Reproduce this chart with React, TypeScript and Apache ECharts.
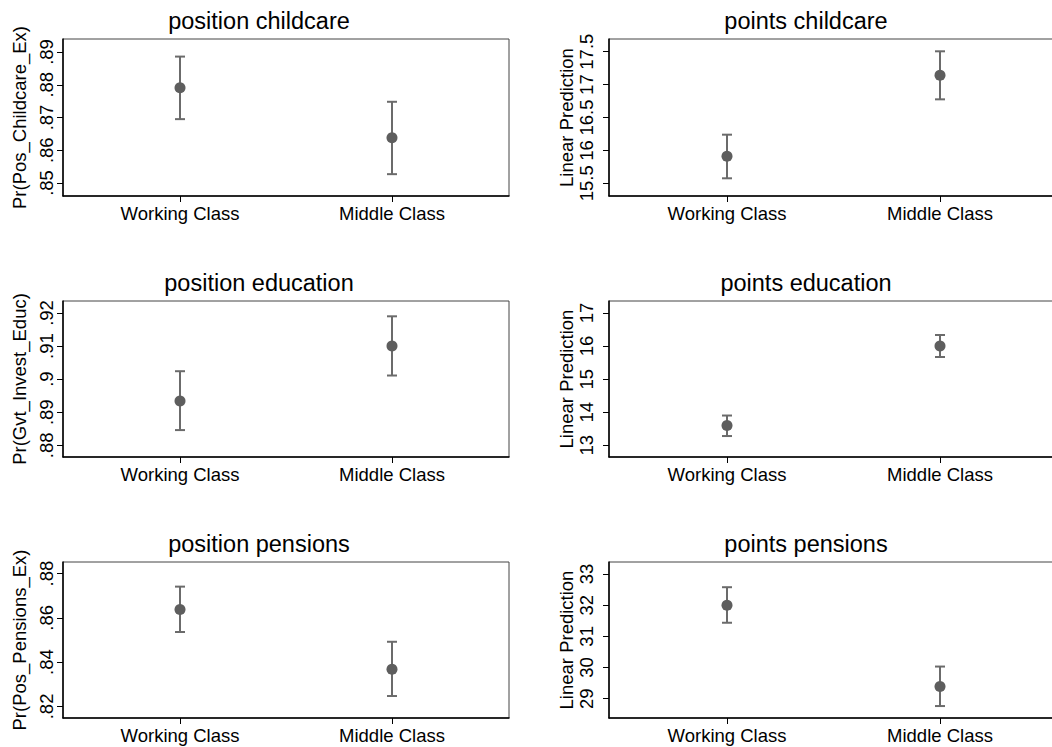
import React, { useEffect, useRef } from "react";
import * as echarts from "echarts";

const categories = ["Working Class", "Middle Class"];

const posChildcareEst = [0.8791, 0.8638];
const posChildcareLo = [0.8695, 0.8527];
const posChildcareHi = [0.8886, 0.8748];
const posChildcareTicks = [0.85, 0.86, 0.87, 0.88, 0.89];

const ptsChildcareEst = [15.911, 17.141];
const ptsChildcareLo = [15.576, 16.776];
const ptsChildcareHi = [16.239, 17.506];
const ptsChildcareTicks = [15.5, 16, 16.5, 17, 17.5];

const posEducationEst = [0.8934, 0.91];
const posEducationLo = [0.8846, 0.9011];
const posEducationHi = [0.9024, 0.919];
const posEducationTicks = [0.88, 0.89, 0.9, 0.91, 0.92];

const ptsEducationEst = [13.596, 16.003];
const ptsEducationLo = [13.28, 15.67];
const ptsEducationHi = [13.9, 16.335];
const ptsEducationTicks = [13, 14, 15, 16, 17];

const posPensionsEst = [0.8638, 0.8368];
const posPensionsLo = [0.8536, 0.8247];
const posPensionsHi = [0.8741, 0.8492];
const posPensionsTicks = [0.82, 0.84, 0.86, 0.88];

const ptsPensionsEst = [32.0, 29.393];
const ptsPensionsLo = [31.436, 28.766];
const ptsPensionsHi = [32.575, 30.032];
const ptsPensionsTicks = [29, 30, 31, 32, 33];

const FONT = "'Liberation Sans', Arial, Helvetica, sans-serif";

const probFmt = (v: number) => String(v).replace(/^0/, "");
const numFmt = (v: number) => String(v);

type Panel = {
  title: string;
  yName: string;
  est: number[];
  lo: number[];
  hi: number[];
  ticks: number[];
  yMin: number;
  yMax: number;
  fmt: (v: number) => string;
  left: number;
  top: number;
  width: number;
  height: number;
  xMin: number;
  xMax: number;
  titleX: number;
  titleTop: number;
  labelMargin: number;
  nameGap: number;
};

// left column: box 63..509 ; right column: box starts at 609 and runs past the page edge
const L = { left: 63, width: 446, xMin: -0.552, xMax: 1.552 };
const R = { left: 609, width: 462, xMin: -0.554, xMax: 1.615 };

const panels: Panel[] = [
  {
    title: "position childcare", yName: "Pr(Pos_Childcare_Ex)",
    est: posChildcareEst, lo: posChildcareLo, hi: posChildcareHi, ticks: posChildcareTicks,
    yMin: 0.84603, yMax: 0.89397, fmt: probFmt, ...L,
    top: 39, height: 157, titleX: 259, titleTop: 9, labelMargin: 7, nameGap: 34,
  },
  {
    title: "points childcare", yName: "Linear Prediction",
    est: ptsChildcareEst, lo: ptsChildcareLo, hi: ptsChildcareHi, ticks: ptsChildcareTicks,
    yMin: 15.307, yMax: 17.693, fmt: numFmt, ...R,
    top: 39, height: 157, titleX: 806, titleTop: 9, labelMargin: 13, nameGap: 33,
  },
  {
    title: "position education", yName: "Pr(Gvt_Invest_Educ)",
    est: posEducationEst, lo: posEducationLo, hi: posEducationHi, ticks: posEducationTicks,
    yMin: 0.87646, yMax: 0.92363, fmt: probFmt, ...L,
    top: 301, height: 156, titleX: 259, titleTop: 271, labelMargin: 7, nameGap: 34,
  },
  {
    title: "points education", yName: "Linear Prediction",
    est: ptsEducationEst, lo: ptsEducationLo, hi: ptsEducationHi, ticks: ptsEducationTicks,
    yMin: 12.646, yMax: 17.363, fmt: numFmt, ...R,
    top: 301, height: 156, titleX: 806, titleTop: 271, labelMargin: 13, nameGap: 33,
  },
  {
    title: "position pensions", yName: "Pr(Pos_Pensions_Ex)",
    est: posPensionsEst, lo: posPensionsLo, hi: posPensionsHi, ticks: posPensionsTicks,
    yMin: 0.81478, yMax: 0.88522, fmt: probFmt, ...L,
    top: 562, height: 156, titleX: 259, titleTop: 532, labelMargin: 7, nameGap: 34,
  },
  {
    title: "points pensions", yName: "Linear Prediction",
    est: ptsPensionsEst, lo: ptsPensionsLo, hi: ptsPensionsHi, ticks: ptsPensionsTicks,
    yMin: 28.383, yMax: 33.383, fmt: numFmt, ...R,
    top: 562, height: 156, titleX: 806, titleTop: 532, labelMargin: 13, nameGap: 33,
  },
];

export default function App() {
  const ref = useRef<HTMLDivElement>(null);

  useEffect(() => {
    document.body.style.margin = "0";
    if (!ref.current) return;
    const chart = echarts.init(ref.current, null, { renderer: "svg" });

    const option: any = {
      animation: false,
      backgroundColor: "#ffffff",
      textStyle: { fontFamily: FONT },
      title: panels.map((p) => ({
        text: p.title,
        left: p.titleX,
        top: p.titleTop,
        textAlign: "center",
        padding: 0,
        textStyle: { fontFamily: FONT, fontSize: 23.5, fontWeight: "normal", color: "#000" },
      })),
      grid: panels.map((p) => ({
        left: p.left,
        top: p.top,
        width: p.width,
        height: p.height,
        show: true,
        borderColor: "#444",
        borderWidth: 1,
        containLabel: false,
        outerBoundsMode: "none",
      })),
      xAxis: panels.map((p, i) => ({
        type: "value",
        gridIndex: i,
        min: p.xMin,
        max: p.xMax,
        splitLine: { show: false },
        axisLine: { show: true, onZero: false, lineStyle: { color: "#000", width: 1.5 } },
        axisTick: { show: true, length: 6, customValues: [0, 1], lineStyle: { color: "#000", width: 1 } },
        axisLabel: {
          customValues: [0, 1],
          margin: 8,
          fontSize: 18.5,
          fontFamily: FONT,
          color: "#000",
          formatter: (v: number) => categories[Math.round(v)],
        },
      })),
      yAxis: panels.map((p, i) => ({
        type: "value",
        gridIndex: i,
        min: p.yMin,
        max: p.yMax,
        name: p.yName,
        nameLocation: "middle",
        nameRotate: 90,
        nameGap: p.nameGap,
        nameTextStyle: { fontSize: 18.5, fontFamily: FONT, color: "#000" },
        splitLine: { show: false },
        axisLine: { show: true, onZero: false, lineStyle: { color: "#000", width: 1.5 } },
        axisTick: { show: true, length: 6, customValues: p.ticks, lineStyle: { color: "#000", width: 1 } },
        axisLabel: {
          customValues: p.ticks,
          rotate: 90,
          margin: p.labelMargin,
          fontSize: 18.5,
          fontFamily: FONT,
          color: "#000",
          formatter: (v: number) => p.fmt(v),
        },
      })),
      series: panels.flatMap((p, i) => [
        {
          type: "custom",
          xAxisIndex: i,
          yAxisIndex: i,
          encode: { x: 0, y: [1, 2] },
          data: categories.map((_, j) => [j, p.lo[j], p.hi[j]]),
          renderItem: (params: any, api: any) => {
            const x = api.value(0);
            const lo = api.coord([x, api.value(1)]);
            const hi = api.coord([x, api.value(2)]);
            const cap = 5;
            const style = { stroke: "#6b6b6b", lineWidth: 2 };
            return {
              type: "group",
              children: [
                { type: "line", shape: { x1: lo[0], y1: lo[1], x2: hi[0], y2: hi[1] }, style },
                { type: "line", shape: { x1: hi[0] - cap, y1: hi[1], x2: hi[0] + cap, y2: hi[1] }, style },
                { type: "line", shape: { x1: lo[0] - cap, y1: lo[1], x2: lo[0] + cap, y2: lo[1] }, style },
              ],
            };
          },
          z: 2,
        },
        {
          type: "scatter",
          xAxisIndex: i,
          yAxisIndex: i,
          symbol: "circle",
          symbolSize: 11,
          itemStyle: { color: "#5e5e5e", opacity: 1 },
          data: p.est.map((v, j) => [j, v]),
          z: 3,
        },
      ]),
    };

    chart.setOption(option);
    return () => chart.dispose();
  }, []);

  return <div ref={ref} style={{ width: 1052, height: 747 }} />;
}
